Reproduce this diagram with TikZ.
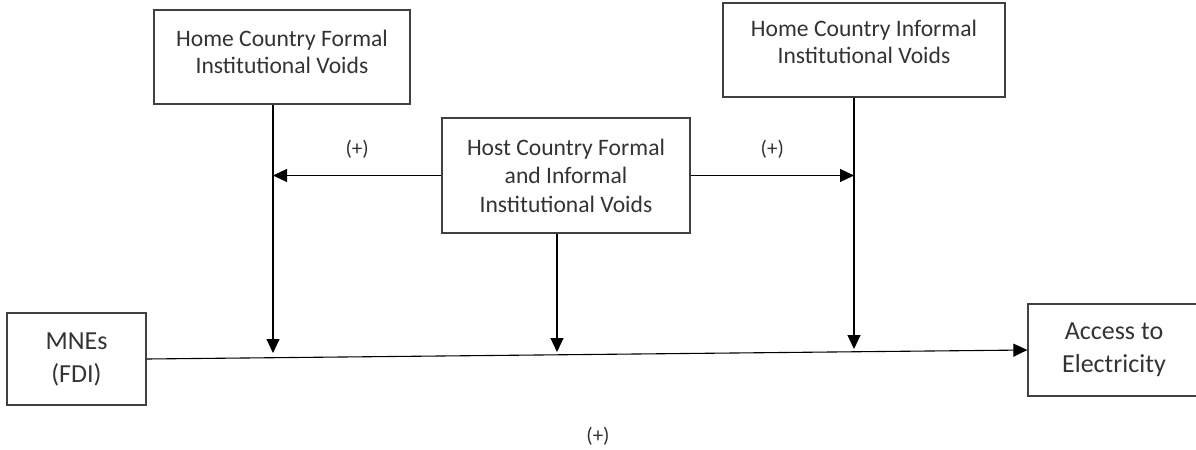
\documentclass[tikz,border=0pt]{standalone}
\usepackage{fontspec}
\setmainfont{Carlito}
\usepackage{tikz}
\usetikzlibrary{positioning,arrows.meta}
\usepackage{xcolor}

\begin{document}
\begin{tikzpicture}[x=0.5pt,y=-0.5pt,>={Triangle[length=7pt,width=6.5pt]},
  box/.style={draw=black!75,line width=0.65pt,align=center,inner sep=2pt,text=black!80,font=\fontsize{11.8}{13.8}\selectfont},
  bigbox/.style={box,font=\fontsize{13}{16.5}\selectfont},
  link/.style={->,line width=0.55pt},
  sign/.style={text=black!80,font=\fontsize{10.5}{12}\selectfont}]
\useasboundingbox (0,0) rectangle (1196,450);
\node[box,minimum width=128pt,minimum height=47pt,text depth=5pt] (homeF) at (282,57) {Home Country Formal\\Institutional Voids};
\node[box,minimum width=141pt,minimum height=47pt,text depth=8pt] (homeI) at (864,50) {Home Country Informal\\Institutional Voids};
\node[box,minimum width=124pt,minimum height=57.5pt,font=\fontsize{11.8}{14.2}\selectfont] (host) at (566,175.5) {Host Country Formal\\and Informal\\Institutional Voids};
\node[bigbox,minimum width=69.5pt,minimum height=46pt] (mne) at (76.5,359) {MNEs\\(FDI)};
\node[bigbox,minimum width=86pt,minimum height=46pt] (elec) at (1114,350) {Access to\\Electricity};
% tips on the main path
\coordinate (tF) at (273,353);
\coordinate (tH) at (557,352);
\coordinate (tI) at (854,349);
\draw[link] (mne.east) -- (elec.west);
\draw[link] (homeF.south -| tF) -- (tF);
\draw[link] (host.south -| tH) -- (tH);
\draw[link] (homeI.south -| tI) -- (tI);
\draw[link] (host.west) -- (host.west -| tF) node[midway,above=5pt,sign]{(+)};
\draw[link] (host.east) -- (host.east -| tI) node[midway,above=5pt,sign]{(+)};
\node[sign] (total) at (598,436) {(+)};
\end{tikzpicture}
\end{document}
